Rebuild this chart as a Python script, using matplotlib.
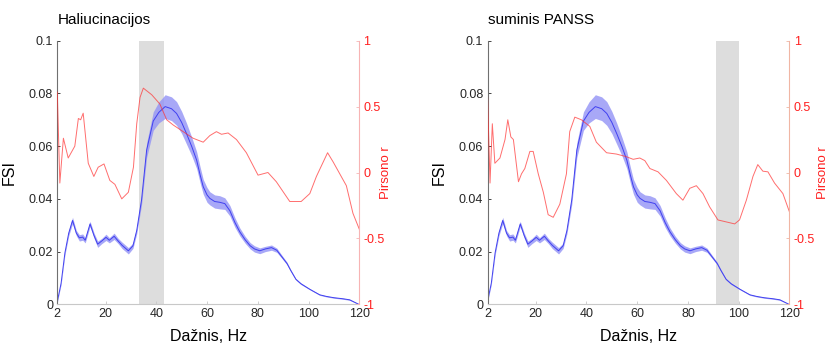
import matplotlib
matplotlib.use('Agg')
import matplotlib.pyplot as plt
import numpy as np

plt.rcParams['font.family'] = ['Liberation Sans', 'DejaVu Sans']

# FSI vidurkis ir paklaida (abiem grafikams tas pats)
freq = [1, 2.5, 4, 5.5, 7, 8.5, 9.7, 11, 12, 13.9, 15.5, 16.9, 18.5, 20.2, 21.5, 23.4, 25, 26.5, 29,
        30.8, 32.3, 34.2, 36.2, 38.8, 41, 43.5, 46, 48, 50, 51.9, 54, 55.9, 57.3, 58.5, 60, 61.1, 63,
        65, 67, 69, 71, 72.9, 75, 77, 78.7, 80.8, 83, 85.4, 87.5, 89.5, 91.5, 93, 95, 97, 100.5,
        104.4, 107, 110, 113.6, 116.2, 119.8]
fsi = [0.001, 0.008, 0.0195, 0.027, 0.0318, 0.027, 0.0252, 0.0255, 0.0243, 0.0305, 0.026, 0.0228,
       0.024, 0.0254, 0.0243, 0.0258, 0.024, 0.0224, 0.0203, 0.0222, 0.028, 0.0396, 0.0585, 0.0695,
       0.0728, 0.075, 0.0742, 0.0724, 0.069, 0.0648, 0.0598, 0.0547, 0.049, 0.0446, 0.0415, 0.0402,
       0.039, 0.0387, 0.0382, 0.0355, 0.031, 0.0275, 0.0245, 0.0222, 0.021, 0.0203, 0.021, 0.0215,
       0.0205, 0.018, 0.0155, 0.0128, 0.0095, 0.0078, 0.0057, 0.0036, 0.003, 0.0025, 0.0021,
       0.0017, 0.0]
fsi_sem = [0.0003, 0.0005, 0.0008, 0.001, 0.0012, 0.001, 0.0012, 0.0012, 0.001, 0.001, 0.001,
           0.0012, 0.001, 0.0012, 0.001, 0.0012, 0.001, 0.0012, 0.0012, 0.001, 0.0012, 0.0018,
           0.0028, 0.0035, 0.004, 0.0045, 0.0045, 0.0045, 0.0042, 0.004, 0.0035, 0.0032, 0.003,
           0.0028, 0.0028, 0.0025, 0.0025, 0.0025, 0.0022, 0.002, 0.0018, 0.0015, 0.0013, 0.0012,
           0.0012, 0.0011, 0.001, 0.001, 0.0008, 0.0006, 0.0005, 0.0004, 0.0003, 0.0003, 0.0002,
           0.0002, 0.0002, 0.0002, 0.0002, 0.0002, 0.0001]

# Pirsono koreliacija - haliucinacijos
freq_h = [1, 2, 3.4, 5.3, 7.9, 9.3, 10.2, 11.2, 13.2, 15.4, 17.1, 19.4, 21.7, 23.7, 26.4, 29, 31,
          32.3, 33.6, 34.9, 38.2, 41.4, 44.1, 46.7, 50.6, 54.5, 58.5, 61.1, 63.7, 65.7, 68.3, 71.6,
          75.5, 80.1, 84, 87.3, 92.6, 97.1, 100.5, 103.1, 107.5, 109.7, 112.3, 114.9, 117.5, 120]
r_h = [0.61, -0.08, 0.26, 0.11, 0.2, 0.41, 0.4, 0.45, 0.07, -0.03, 0.04, 0.065, -0.06, -0.09, -0.2,
       -0.15, 0.04, 0.37, 0.57, 0.64, 0.59, 0.52, 0.4, 0.36, 0.31, 0.26, 0.23, 0.28, 0.31, 0.29,
       0.3, 0.25, 0.15, -0.02, 0.0, -0.07, -0.22, -0.22, -0.16, -0.03, 0.15, 0.08, -0.01, -0.1,
       -0.31, -0.43]

# Pirsono koreliacija - suminis PANSS
freq_p = [1, 2, 2.9, 3.9, 5.9, 7.9, 9, 10.2, 11.2, 13.2, 14.4, 15.7, 17.7, 19, 21, 23, 24.9, 26.9,
          29.5, 32.1, 33.4, 35.4, 38, 41.3, 43.9, 47.9, 51.8, 55.7, 58.4, 61, 63, 65, 68.2, 71.5,
          75.4, 78, 80.7, 83.3, 85.9, 88.5, 91.8, 95.1, 98.4, 100.3, 103, 105.6, 107.5, 109.5,
          111.5, 114.1, 117.4, 120]
r_p = [0.59, -0.08, 0.37, 0.07, 0.11, 0.25, 0.4, 0.27, 0.25, -0.07, -0.01, 0.03, 0.16, 0.16, -0.01,
       -0.15, -0.32, -0.34, -0.24, -0.01, 0.31, 0.42, 0.4, 0.35, 0.23, 0.15, 0.14, 0.12, 0.1, 0.11,
       0.09, 0.03, 0.005, -0.06, -0.16, -0.21, -0.12, -0.1, -0.16, -0.26, -0.36, -0.375, -0.39,
       -0.36, -0.21, -0.03, 0.06, 0.01, 0.005, -0.08, -0.16, -0.3]

titles = ['Haliucinacijos', 'suminis PANSS']
bands = [(33, 43), (91, 100)]
r_series = [(freq_h, r_h), (freq_p, r_p)]
xticks = [1, 20, 40, 60, 80, 100, 120]
xticklabels = ['2', '20', '40', '60', '80', '100', '120']

fig = plt.figure(figsize=(8.26, 3.47), dpi=100)
lefts = [57.3 / 826, 487.5 / 826]
spine_r = ['#f7b4b4', '#f0b6a4']
label_x = [1.07, 1.09]

for k in range(2):
    ax = fig.add_axes([lefts[k], 1 - 304.3 / 347, 302 / 826, 263.6 / 347])
    ax.axvspan(bands[k][0], bands[k][1], color='#dddddd', lw=0, zorder=0)
    lo = np.array(fsi) - np.array(fsi_sem)
    hi = np.array(fsi) + np.array(fsi_sem)
    ax.fill_between(freq, lo, hi, color='#9393f6', lw=0, alpha=0.8, zorder=1)
    ax.plot(freq, fsi, c='#4040f0', lw=0.7, zorder=2)
    ax.set_xlim(1, 120)
    ax.set_ylim(0, 0.1)
    ax.set_xticks(xticks)
    ax.set_xticklabels(xticklabels)
    ax.set_yticks([0, 0.02, 0.04, 0.06, 0.08, 0.1])
    ax.set_yticklabels(['0', '0.02', '0.04', '0.06', '0.08', '0.1'])
    ax.tick_params(direction='in', length=2.5, labelsize=9, colors='#262626', width=0.6, pad=3)
    ax.spines['top'].set_visible(False)
    ax.spines['right'].set_visible(False)
    ax.spines['left'].set_color('#707070')
    ax.spines['bottom'].set_color('#c8c8c8')
    ax.tick_params(axis='x', colors='#c8c8c8', labelcolor='#262626')
    ax.set_ylabel('FSI', fontsize=11.5, labelpad=9)
    ax.set_xlabel('Dažnis, Hz', fontsize=11.5, labelpad=6)
    ax.set_title(titles[k], loc='left', fontsize=11, pad=12)

    ax2 = ax.twinx()
    ax2.plot(r_series[k][0], r_series[k][1], c='#ff3030', lw=0.7, alpha=0.7)
    ax2.set_ylim(-1, 1)
    ax2.set_yticks([-1, -0.5, 0, 0.5, 1])
    ax2.set_yticklabels(['-1', '-0.5', '0', '0.5', '1'])
    ax2.tick_params(direction='in', length=2.5, labelsize=9, colors=spine_r[k], labelcolor='#ff2020',
                    width=0.6, pad=3)
    for s in ['top', 'left', 'bottom']:
        ax2.spines[s].set_visible(False)
    ax2.spines['right'].set_color(spine_r[k])
    ax2.set_ylabel('Pirsono r', color='#ff2020', fontsize=9.5)
    ax2.yaxis.set_label_coords(label_x[k], 0.5)

plt.savefig('out.png')
